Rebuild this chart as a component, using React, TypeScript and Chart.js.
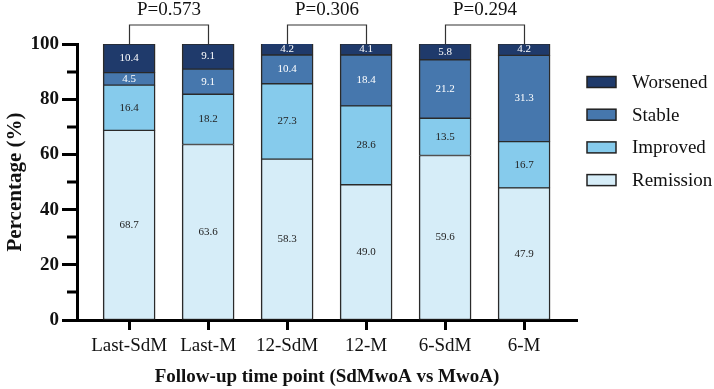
import { useEffect, useRef } from 'react';
import { Chart, registerables } from 'chart.js';

Chart.register(...registerables);

const categories = ['Last-SdM', 'Last-M', '12-SdM', '12-M', '6-SdM', '6-M'];
const remission = [68.7, 63.6, 58.3, 49.0, 59.6, 47.9];
const improved = [16.4, 18.2, 27.3, 28.6, 13.5, 16.7];
const stable = [4.5, 9.1, 10.4, 18.4, 21.2, 31.3];
const worsened = [10.4, 9.1, 4.2, 4.1, 5.8, 4.2];

const comparisonPairs = [
  [0, 1],
  [2, 3],
  [4, 5],
];
const pValues = ['P=0.573', 'P=0.306', 'P=0.294'];

const yMajorTicks = [0, 20, 40, 60, 80, 100];
const yMinorTicks = [10, 30, 50, 70, 90];

const SERIF = "'Liberation Serif', 'Times New Roman', serif";

const seriesStyle = [
  { label: 'Remission', fill: '#d6edf8', text: '#222222' },
  { label: 'Improved', fill: '#86cbec', text: '#222222' },
  { label: 'Stable', fill: '#4677ad', text: '#ffffff' },
  { label: 'Worsened', fill: '#1f3a6b', text: '#ffffff' },
];

// Short minor ticks between the labelled y ticks
const minorTickPlugin = {
  id: 'minorTicks',
  afterDraw(chart: any) {
    const { ctx, scales } = chart;
    const y = scales.y;
    const x0 = chart.chartArea.left;
    ctx.save();
    ctx.strokeStyle = '#000';
    ctx.lineWidth = 3;
    yMinorTicks.forEach((v) => {
      const py = Math.round(y.getPixelForValue(v));
      ctx.beginPath();
      ctx.moveTo(x0 - 10, py);
      ctx.lineTo(x0, py);
      ctx.stroke();
    });
    ctx.restore();
  },
};

// Value labels centred inside each stacked segment
const segmentLabelPlugin = {
  id: 'segmentLabels',
  afterDatasetsDraw(chart: any) {
    const { ctx } = chart;
    ctx.save();
    ctx.font = `11px ${SERIF}`;
    ctx.textAlign = 'center';
    ctx.textBaseline = 'middle';
    chart.data.datasets.forEach((ds: any, di: number) => {
      const meta = chart.getDatasetMeta(di);
      ctx.fillStyle = seriesStyle[di].text;
      meta.data.forEach((el: any, i: number) => {
        const v = ds.data[i];
        const cy = (el.y + el.base) / 2;
        ctx.fillText(Number(v).toFixed(1), el.x, cy);
      });
    });
    ctx.restore();
  },
};

// Brackets joining compared bars with their P values
const bracketPlugin = {
  id: 'brackets',
  afterDraw(chart: any) {
    const { ctx, scales } = chart;
    const top = scales.y.getPixelForValue(100);
    const bracketY = top - 19;
    ctx.save();
    ctx.strokeStyle = '#333';
    ctx.lineWidth = 1.2;
    ctx.fillStyle = '#111';
    ctx.font = `19px ${SERIF}`;
    ctx.textAlign = 'center';
    ctx.textBaseline = 'middle';
    comparisonPairs.forEach(([a, b], k) => {
      const xa = Math.round(scales.x.getPixelForValue(a)) + 0.5;
      const xb = Math.round(scales.x.getPixelForValue(b)) + 0.5;
      ctx.beginPath();
      ctx.moveTo(xa, top);
      ctx.lineTo(xa, bracketY);
      ctx.lineTo(xb, bracketY);
      ctx.lineTo(xb, top);
      ctx.stroke();
      ctx.fillText(pValues[k], (xa + xb) / 2, bracketY - 15);
    });
    ctx.restore();
  },
};

// Legend at the right, top entry is the top segment of the stack
const sideLegendPlugin = {
  id: 'sideLegend',
  afterDraw(chart: any) {
    const { ctx, chartArea } = chart;
    const x0 = chartArea.right + 10;
    const y0 = chartArea.top + 38;
    const gap = 32.7;
    ctx.save();
    ctx.font = `19px ${SERIF}`;
    ctx.textAlign = 'left';
    ctx.textBaseline = 'middle';
    const entries = chart.data.datasets.map((ds: any, i: number) => ({ ds, i })).reverse();
    entries.forEach(({ ds }: any, r: number) => {
      const cy = y0 + r * gap;
      ctx.fillStyle = ds.backgroundColor;
      ctx.fillRect(x0, cy - 5.5, 29, 11);
      ctx.strokeStyle = '#222';
      ctx.lineWidth = 1.5;
      ctx.strokeRect(x0, cy - 5.5, 29, 11);
      ctx.fillStyle = '#111';
      ctx.fillText(ds.label, x0 + 45, cy + 1);
    });
    ctx.restore();
  },
};

export default function App() {
  const canvasRef = useRef<HTMLCanvasElement | null>(null);

  useEffect(() => {
    const canvas = canvasRef.current;
    if (!canvas) return;
    Chart.defaults.font.family = SERIF;
    const seriesValues = [remission, improved, stable, worsened];

    const chart = new Chart(canvas, {
      type: 'bar',
      data: {
        labels: categories.map((_, i) => i),
        datasets: seriesValues.map((values, i) => ({
          label: seriesStyle[i].label,
          data: values,
          backgroundColor: seriesStyle[i].fill,
          borderColor: '#2a2a2a',
          borderWidth: { left: 1.5, right: 1.5, top: 1, bottom: 1 },
          borderSkipped: false,
          barThickness: 52,
        })),
      },
      options: {
        responsive: false,
        animation: false,
        maintainAspectRatio: false,
        layout: { padding: { top: 44, right: 137, left: 0, bottom: 0 } },
        plugins: {
          legend: { display: false },
          tooltip: { enabled: false },
        },
        scales: {
          x: {
            type: 'linear',
            stacked: true,
            offset: false,
            min: -0.66,
            max: 5.67,
            afterFit(scale: any) {
              scale.height = 69;
            },
            afterBuildTicks(scale: any) {
              scale.ticks = categories.map((_, i) => ({ value: i }));
            },
            border: { display: true, color: '#000', width: 3 },
            grid: {
              offset: false,
              drawOnChartArea: false,
              drawTicks: true,
              tickLength: 10,
              tickWidth: 3,
              tickColor: '#000',
            },
            ticks: {
              autoSkip: false,
              maxRotation: 0,
              padding: 5,
              color: '#111',
              font: { size: 19, family: SERIF },
              callback: (v: any) =>
                Number.isInteger(v) && v >= 0 && v < categories.length ? categories[v] : '',
            },
            title: {
              display: true,
              text: 'Follow-up time point (SdMwoA vs MwoA)',
              color: '#111',
              font: { size: 19, weight: 'bold', family: SERIF },
              padding: { top: 0, bottom: 1 },
            },
          },
          y: {
            stacked: true,
            min: 0,
            max: 100,
            afterFit(scale: any) {
              scale.width = 77;
            },
            afterBuildTicks(scale: any) {
              scale.ticks = yMajorTicks.map((v) => ({ value: v }));
            },
            border: { display: true, color: '#000', width: 3 },
            grid: {
              drawOnChartArea: false,
              drawTicks: true,
              tickLength: 15,
              tickWidth: 3,
              tickColor: '#000',
            },
            ticks: {
              padding: 3,
              color: '#111',
              font: { size: 19, weight: 'bold', family: SERIF },
            },
            title: {
              display: true,
              text: 'Percentage (%)',
              color: '#111',
              font: { size: 21, weight: 'bold', family: SERIF },
              padding: { top: 3, bottom: 0 },
            },
          },
        },
      },
      plugins: [minorTickPlugin, segmentLabelPlugin, bracketPlugin, sideLegendPlugin],
    } as any);

    return () => chart.destroy();
  }, []);

  return (
    <div style={{ position: 'fixed', left: 0, top: 0, width: 714, height: 389, background: '#fff' }}>
      <canvas ref={canvasRef} width={714} height={389} style={{ display: 'block', width: 714, height: 389 }} />
    </div>
  );
}
